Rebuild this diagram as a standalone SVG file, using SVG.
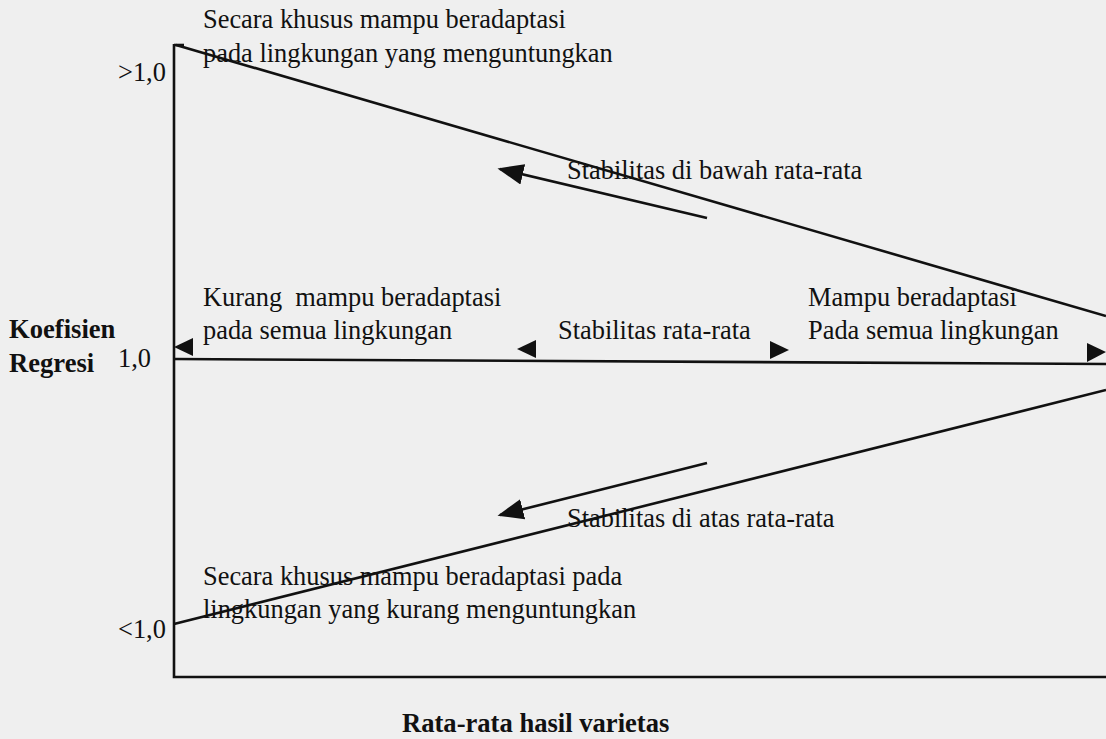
<svg xmlns="http://www.w3.org/2000/svg" width="1106" height="739" viewBox="0 0 1106 739">
<style>
.t{font-family:"Liberation Serif","Times New Roman",serif;font-size:26.4px;fill:#111}
.b{font-family:"Liberation Serif","Times New Roman",serif;font-size:26.6px;font-weight:bold;fill:#111}
.ln{stroke:#111;stroke-width:2.6;fill:none}
.ah{fill:#111}
</style>
<defs>
<marker id="arr" markerWidth="10" markerHeight="8" refX="9" refY="4" orient="auto" markerUnits="strokeWidth">
<path d="M0,0 L10,4 L0,8 Z" fill="#111"/>
</marker>
</defs>
<rect width="1106" height="739" fill="#efefef"/>
<g id="axes">
<path class="ln" d="M174,44 V677 H1106"/>
<line class="ln" x1="174" y1="359" x2="1106" y2="364"/>
</g>
<g id="connectors">
<path class="ln" d="M174,45 H184"/>
<line class="ln" x1="176" y1="45" x2="1106" y2="316"/>
<line class="ln" x1="174" y1="624" x2="1106" y2="390"/>
<line class="ln" x1="707" y1="218" x2="500" y2="169" marker-end="url(#arr)"/>
<line class="ln" x1="707" y1="463" x2="500" y2="515" marker-end="url(#arr)"/>
<polygon class="ah" points="174,347 193,338 193,356"/>
<polygon class="ah" points="517,349 536,340 536,358"/>
<polygon class="ah" points="789,350 770,341 770,359"/>
<polygon class="ah" points="1106,352 1087,343 1087,362"/>
</g>
<g id="label-top">
<text class="t" x="203" y="28">Secara khusus mampu beradaptasi</text>
<text class="t" x="203" y="62">pada lingkungan yang menguntungkan</text>
</g>
<g id="label-gt"><text class="t" x="118" y="81">&gt;1,0</text></g>
<g id="label-below"><text class="t" x="567" y="179">Stabilitas di bawah rata-rata</text></g>
<g id="label-kurang">
<text class="t" x="203" y="306" xml:space="preserve">Kurang  mampu beradaptasi</text>
<text class="t" x="203" y="339">pada semua lingkungan</text>
</g>
<g id="label-axis-y">
<text class="b" x="9" y="338">Koefisien</text>
<text class="b" x="9" y="372">Regresi</text>
</g>
<g id="label-one"><text class="t" x="118" y="367">1,0</text></g>
<g id="label-avg"><text class="t" x="558" y="339">Stabilitas rata-rata</text></g>
<g id="label-mampu">
<text class="t" x="808" y="306">Mampu beradaptasi</text>
<text class="t" x="808" y="339">Pada semua lingkungan</text>
</g>
<g id="label-above"><text class="t" x="567" y="527">Stabilitas di atas rata-rata</text></g>
<g id="label-bottom">
<text class="t" x="203" y="585">Secara khusus mampu beradaptasi pada</text>
<text class="t" x="203" y="618">lingkungan yang kurang menguntungkan</text>
</g>
<g id="label-lt"><text class="t" x="118" y="638">&lt;1,0</text></g>
<g id="label-axis-x"><text class="b" x="402" y="732">Rata-rata hasil varietas</text></g>
</svg>
